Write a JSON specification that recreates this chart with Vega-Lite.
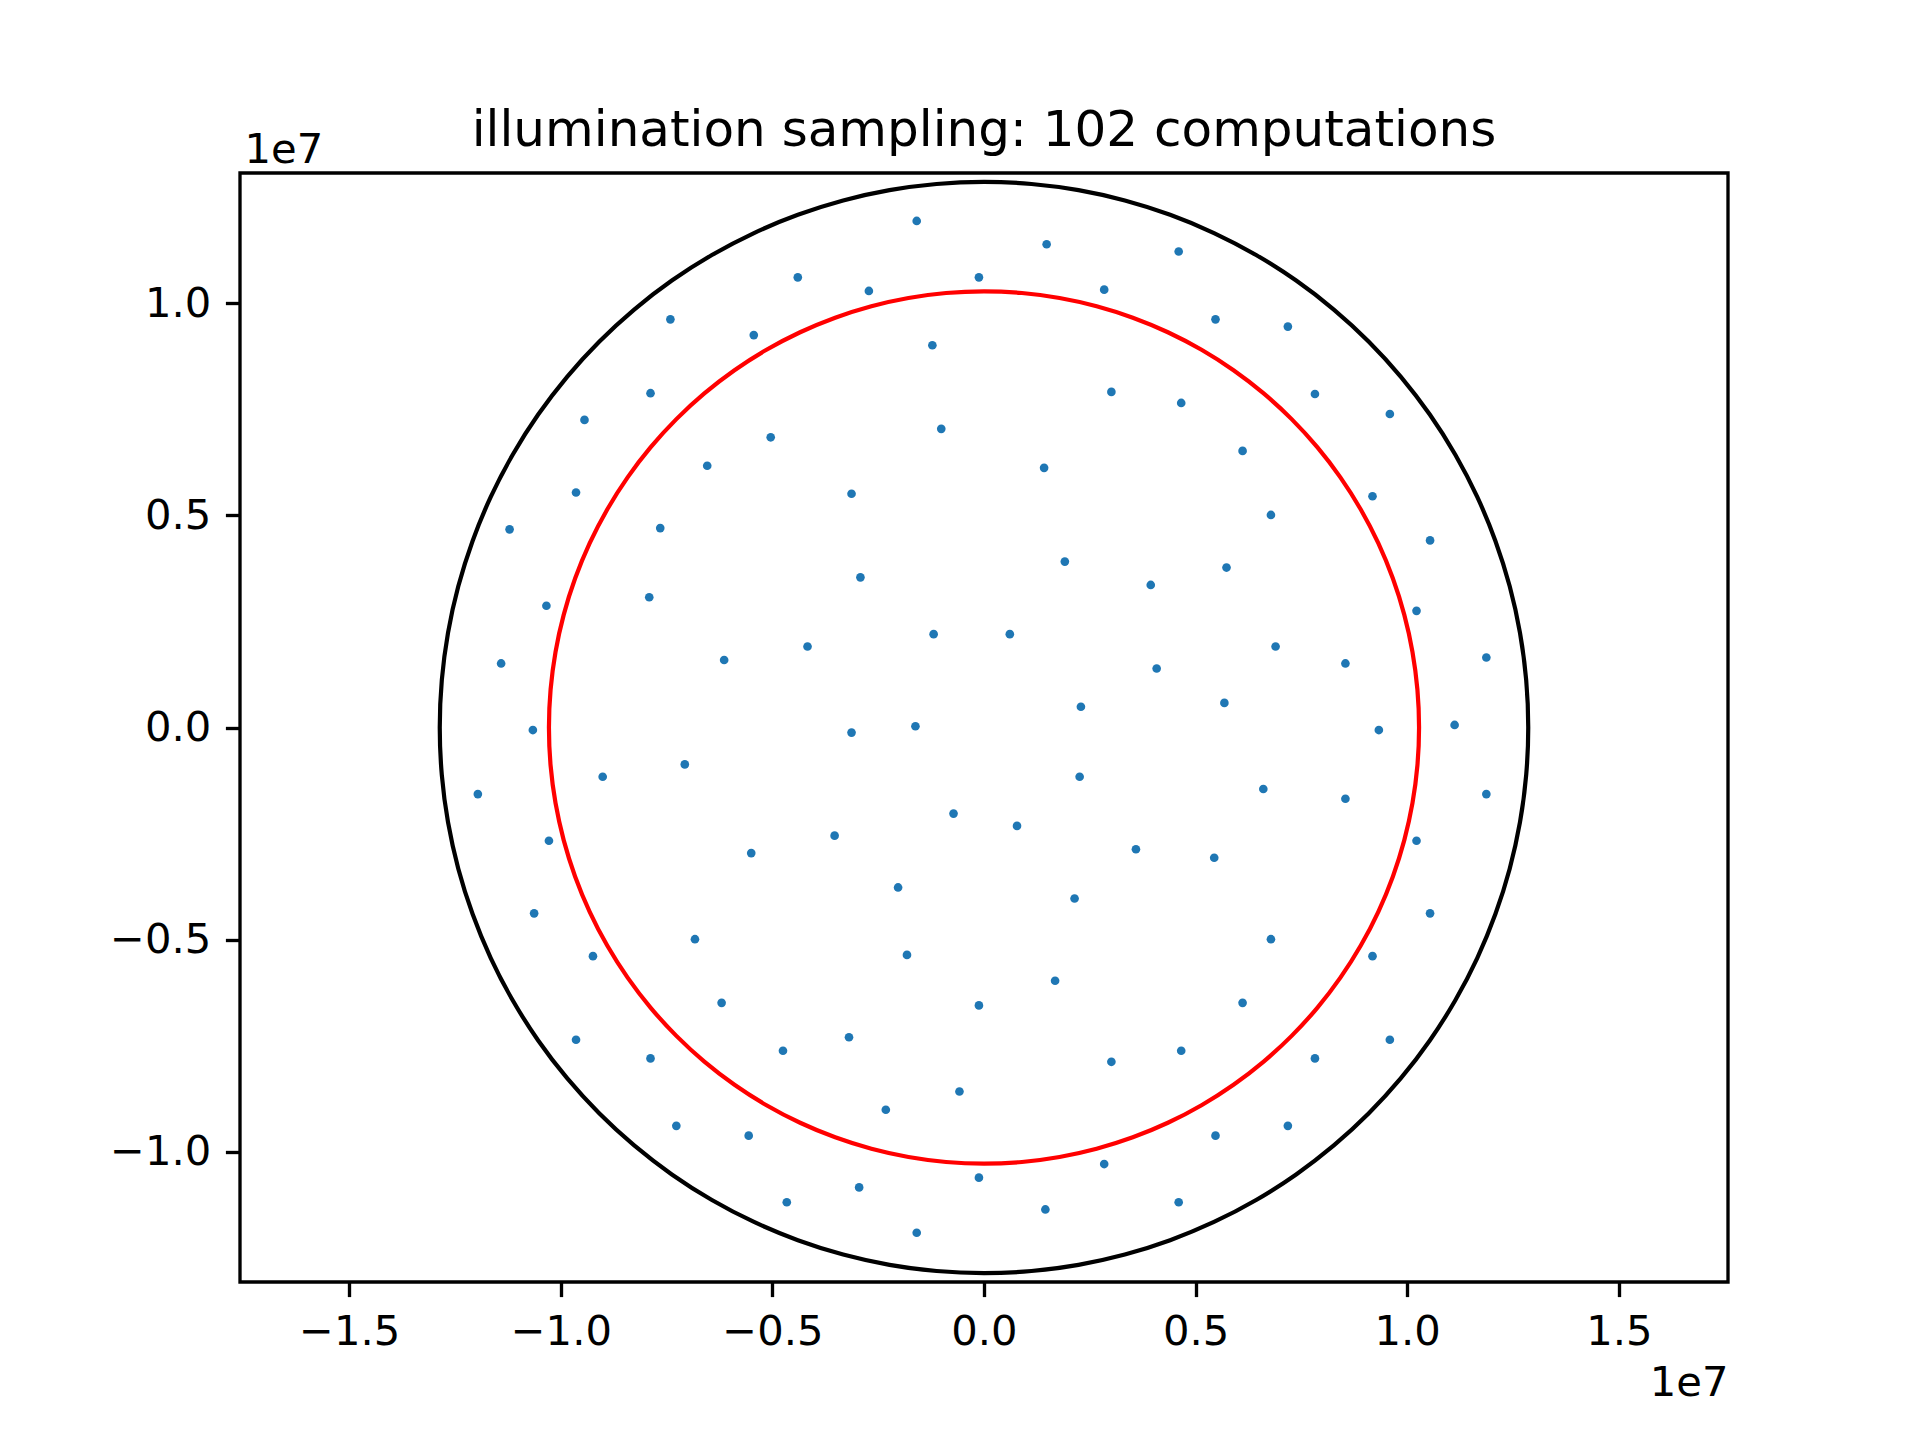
{
  "$schema": "https://vega.github.io/schema/vega-lite/v6.json",
  "width": 1488,
  "height": 1109,
  "autosize": {"type": "none"},
  "padding": {"left": 240, "top": 173, "right": 192, "bottom": 158},
  "background": "white",
  "title": {"text": "illumination sampling: 102 computations", "font": "DejaVu Sans", "fontSize": 50, "fontWeight": "normal", "color": "black", "anchor": "middle", "baseline": "alphabetic", "offset": -67, "frame": "group"},
  "config": {
    "view": {"stroke": "black", "strokeWidth": 3.33},
    "axis": {"domain": false, "grid": false, "ticks": true, "tickColor": "black", "tickWidth": 3.33, "tickSize": 14.6, "labelPadding": 14.6, "labelFont": "DejaVu Sans", "labelFontSize": 41.7, "labelColor": "black", "titleFont": "DejaVu Sans", "titleFontSize": 41.7, "titleFontWeight": "normal", "titleColor": "black"}
  },
  "datasets": {
    "circles": [
      {"c":"outer","i":0,"x":1.286,"y":0},{"c":"outer","i":1,"x":1.2811,"y":0.1121},{"c":"outer","i":2,"x":1.2665,"y":0.2233},{"c":"outer","i":3,"x":1.2422,"y":0.3328},{"c":"outer","i":4,"x":1.2084,"y":0.4398},{"c":"outer","i":5,"x":1.1655,"y":0.5435},{"c":"outer","i":6,"x":1.1137,"y":0.643},{"c":"outer","i":7,"x":1.0534,"y":0.7376},{"c":"outer","i":8,"x":0.9851,"y":0.8266},{"c":"outer","i":9,"x":0.9093,"y":0.9093},{"c":"outer","i":10,"x":0.8266,"y":0.9851},{"c":"outer","i":11,"x":0.7376,"y":1.0534},{"c":"outer","i":12,"x":0.643,"y":1.1137},{"c":"outer","i":13,"x":0.5435,"y":1.1655},{"c":"outer","i":14,"x":0.4398,"y":1.2084},{"c":"outer","i":15,"x":0.3328,"y":1.2422},{"c":"outer","i":16,"x":0.2233,"y":1.2665},{"c":"outer","i":17,"x":0.1121,"y":1.2811},
      {"c":"outer","i":18,"x":0,"y":1.286},{"c":"outer","i":19,"x":-0.1121,"y":1.2811},{"c":"outer","i":20,"x":-0.2233,"y":1.2665},{"c":"outer","i":21,"x":-0.3328,"y":1.2422},{"c":"outer","i":22,"x":-0.4398,"y":1.2084},{"c":"outer","i":23,"x":-0.5435,"y":1.1655},{"c":"outer","i":24,"x":-0.643,"y":1.1137},{"c":"outer","i":25,"x":-0.7376,"y":1.0534},{"c":"outer","i":26,"x":-0.8266,"y":0.9851},{"c":"outer","i":27,"x":-0.9093,"y":0.9093},{"c":"outer","i":28,"x":-0.9851,"y":0.8266},{"c":"outer","i":29,"x":-1.0534,"y":0.7376},{"c":"outer","i":30,"x":-1.1137,"y":0.643},{"c":"outer","i":31,"x":-1.1655,"y":0.5435},{"c":"outer","i":32,"x":-1.2084,"y":0.4398},{"c":"outer","i":33,"x":-1.2422,"y":0.3328},{"c":"outer","i":34,"x":-1.2665,"y":0.2233},{"c":"outer","i":35,"x":-1.2811,"y":0.1121},
      {"c":"outer","i":36,"x":-1.286,"y":0},{"c":"outer","i":37,"x":-1.2811,"y":-0.1121},{"c":"outer","i":38,"x":-1.2665,"y":-0.2233},{"c":"outer","i":39,"x":-1.2422,"y":-0.3328},{"c":"outer","i":40,"x":-1.2084,"y":-0.4398},{"c":"outer","i":41,"x":-1.1655,"y":-0.5435},{"c":"outer","i":42,"x":-1.1137,"y":-0.643},{"c":"outer","i":43,"x":-1.0534,"y":-0.7376},{"c":"outer","i":44,"x":-0.9851,"y":-0.8266},{"c":"outer","i":45,"x":-0.9093,"y":-0.9093},{"c":"outer","i":46,"x":-0.8266,"y":-0.9851},{"c":"outer","i":47,"x":-0.7376,"y":-1.0534},{"c":"outer","i":48,"x":-0.643,"y":-1.1137},{"c":"outer","i":49,"x":-0.5435,"y":-1.1655},{"c":"outer","i":50,"x":-0.4398,"y":-1.2084},{"c":"outer","i":51,"x":-0.3328,"y":-1.2422},{"c":"outer","i":52,"x":-0.2233,"y":-1.2665},{"c":"outer","i":53,"x":-0.1121,"y":-1.2811},
      {"c":"outer","i":54,"x":0,"y":-1.286},{"c":"outer","i":55,"x":0.1121,"y":-1.2811},{"c":"outer","i":56,"x":0.2233,"y":-1.2665},{"c":"outer","i":57,"x":0.3328,"y":-1.2422},{"c":"outer","i":58,"x":0.4398,"y":-1.2084},{"c":"outer","i":59,"x":0.5435,"y":-1.1655},{"c":"outer","i":60,"x":0.643,"y":-1.1137},{"c":"outer","i":61,"x":0.7376,"y":-1.0534},{"c":"outer","i":62,"x":0.8266,"y":-0.9851},{"c":"outer","i":63,"x":0.9093,"y":-0.9093},{"c":"outer","i":64,"x":0.9851,"y":-0.8266},{"c":"outer","i":65,"x":1.0534,"y":-0.7376},{"c":"outer","i":66,"x":1.1137,"y":-0.643},{"c":"outer","i":67,"x":1.1655,"y":-0.5435},{"c":"outer","i":68,"x":1.2084,"y":-0.4398},{"c":"outer","i":69,"x":1.2422,"y":-0.3328},{"c":"outer","i":70,"x":1.2665,"y":-0.2233},{"c":"outer","i":71,"x":1.2811,"y":-0.1121},
      {"c":"inner","i":0,"x":1.028,"y":0},{"c":"inner","i":1,"x":1.0241,"y":0.0896},{"c":"inner","i":2,"x":1.0124,"y":0.1785},{"c":"inner","i":3,"x":0.993,"y":0.2661},{"c":"inner","i":4,"x":0.966,"y":0.3516},{"c":"inner","i":5,"x":0.9317,"y":0.4345},{"c":"inner","i":6,"x":0.8903,"y":0.514},{"c":"inner","i":7,"x":0.8421,"y":0.5896},{"c":"inner","i":8,"x":0.7875,"y":0.6608},{"c":"inner","i":9,"x":0.7269,"y":0.7269},{"c":"inner","i":10,"x":0.6608,"y":0.7875},{"c":"inner","i":11,"x":0.5896,"y":0.8421},{"c":"inner","i":12,"x":0.514,"y":0.8903},{"c":"inner","i":13,"x":0.4345,"y":0.9317},{"c":"inner","i":14,"x":0.3516,"y":0.966},{"c":"inner","i":15,"x":0.2661,"y":0.993},{"c":"inner","i":16,"x":0.1785,"y":1.0124},{"c":"inner","i":17,"x":0.0896,"y":1.0241},
      {"c":"inner","i":18,"x":0,"y":1.028},{"c":"inner","i":19,"x":-0.0896,"y":1.0241},{"c":"inner","i":20,"x":-0.1785,"y":1.0124},{"c":"inner","i":21,"x":-0.2661,"y":0.993},{"c":"inner","i":22,"x":-0.3516,"y":0.966},{"c":"inner","i":23,"x":-0.4345,"y":0.9317},{"c":"inner","i":24,"x":-0.514,"y":0.8903},{"c":"inner","i":25,"x":-0.5896,"y":0.8421},{"c":"inner","i":26,"x":-0.6608,"y":0.7875},{"c":"inner","i":27,"x":-0.7269,"y":0.7269},{"c":"inner","i":28,"x":-0.7875,"y":0.6608},{"c":"inner","i":29,"x":-0.8421,"y":0.5896},{"c":"inner","i":30,"x":-0.8903,"y":0.514},{"c":"inner","i":31,"x":-0.9317,"y":0.4345},{"c":"inner","i":32,"x":-0.966,"y":0.3516},{"c":"inner","i":33,"x":-0.993,"y":0.2661},{"c":"inner","i":34,"x":-1.0124,"y":0.1785},{"c":"inner","i":35,"x":-1.0241,"y":0.0896},
      {"c":"inner","i":36,"x":-1.028,"y":0},{"c":"inner","i":37,"x":-1.0241,"y":-0.0896},{"c":"inner","i":38,"x":-1.0124,"y":-0.1785},{"c":"inner","i":39,"x":-0.993,"y":-0.2661},{"c":"inner","i":40,"x":-0.966,"y":-0.3516},{"c":"inner","i":41,"x":-0.9317,"y":-0.4345},{"c":"inner","i":42,"x":-0.8903,"y":-0.514},{"c":"inner","i":43,"x":-0.8421,"y":-0.5896},{"c":"inner","i":44,"x":-0.7875,"y":-0.6608},{"c":"inner","i":45,"x":-0.7269,"y":-0.7269},{"c":"inner","i":46,"x":-0.6608,"y":-0.7875},{"c":"inner","i":47,"x":-0.5896,"y":-0.8421},{"c":"inner","i":48,"x":-0.514,"y":-0.8903},{"c":"inner","i":49,"x":-0.4345,"y":-0.9317},{"c":"inner","i":50,"x":-0.3516,"y":-0.966},{"c":"inner","i":51,"x":-0.2661,"y":-0.993},{"c":"inner","i":52,"x":-0.1785,"y":-1.0124},{"c":"inner","i":53,"x":-0.0896,"y":-1.0241},
      {"c":"inner","i":54,"x":0,"y":-1.028},{"c":"inner","i":55,"x":0.0896,"y":-1.0241},{"c":"inner","i":56,"x":0.1785,"y":-1.0124},{"c":"inner","i":57,"x":0.2661,"y":-0.993},{"c":"inner","i":58,"x":0.3516,"y":-0.966},{"c":"inner","i":59,"x":0.4345,"y":-0.9317},{"c":"inner","i":60,"x":0.514,"y":-0.8903},{"c":"inner","i":61,"x":0.5896,"y":-0.8421},{"c":"inner","i":62,"x":0.6608,"y":-0.7875},{"c":"inner","i":63,"x":0.7269,"y":-0.7269},{"c":"inner","i":64,"x":0.7875,"y":-0.6608},{"c":"inner","i":65,"x":0.8421,"y":-0.5896},{"c":"inner","i":66,"x":0.8903,"y":-0.514},{"c":"inner","i":67,"x":0.9317,"y":-0.4345},{"c":"inner","i":68,"x":0.966,"y":-0.3516},{"c":"inner","i":69,"x":0.993,"y":-0.2661},{"c":"inner","i":70,"x":1.0124,"y":-0.1785},{"c":"inner","i":71,"x":1.0241,"y":-0.0896}
    ],
    "samples": [
      {"x":-0.159,"y":1.194},{"x":0.148,"y":1.139},{"x":0.460,"y":1.122},{"x":-0.440,"y":1.061},{"x":-0.012,"y":1.061},{"x":-0.272,"y":1.029},{"x":0.284,"y":1.032},{"x":-0.741,"y":0.962},{"x":0.547,"y":0.962},{"x":0.718,"y":0.945},
      {"x":-0.544,"y":0.925},{"x":-0.122,"y":0.901},{"x":-0.788,"y":0.788},{"x":0.301,"y":0.791},{"x":0.782,"y":0.786},{"x":0.466,"y":0.765},{"x":-0.944,"y":0.725},{"x":0.959,"y":0.739},{"x":-0.101,"y":0.704},{"x":-0.504,"y":0.684},
      {"x":0.611,"y":0.652},{"x":-0.654,"y":0.617},{"x":0.142,"y":0.612},{"x":-0.964,"y":0.554},{"x":-0.313,"y":0.551},{"x":0.918,"y":0.545},{"x":0.678,"y":0.501},{"x":-0.765,"y":0.470},{"x":-1.121,"y":0.467},{"x":1.054,"y":0.441},
      {"x":0.191,"y":0.391},{"x":0.573,"y":0.377},{"x":-0.292,"y":0.354},{"x":0.394,"y":0.336},{"x":-0.791,"y":0.307},{"x":-1.034,"y":0.287},{"x":1.022,"y":0.275},{"x":-0.119,"y":0.220},{"x":0.061,"y":0.220},{"x":-0.417,"y":0.191},
      {"x":0.689,"y":0.191},{"x":1.187,"y":0.165},{"x":-0.614,"y":0.159},{"x":-1.141,"y":0.151},{"x":0.854,"y":0.151},{"x":0.408,"y":0.139},{"x":0.568,"y":0.058},{"x":0.229,"y":0.049},{"x":1.112,"y":0.006},{"x":-0.162,"y":0.003},
      {"x":-1.066,"y":-0.006},{"x":0.933,"y":-0.006},{"x":-0.313,"y":-0.012},{"x":-0.707,"y":-0.087},{"x":0.226,"y":-0.116},{"x":-0.901,"y":-0.116},{"x":0.660,"y":-0.145},{"x":-1.196,"y":-0.157},{"x":1.187,"y":-0.157},{"x":0.854,"y":-0.168},
      {"x":-0.072,"y":-0.203},{"x":0.078,"y":-0.232},{"x":-0.353,"y":-0.255},{"x":-1.028,"y":-0.267},{"x":1.022,"y":-0.267},{"x":0.359,"y":-0.287},{"x":-0.550,"y":-0.296},{"x":0.544,"y":-0.307},{"x":-0.203,"y":-0.377},{"x":0.214,"y":-0.403},
      {"x":-1.063,"y":-0.438},{"x":1.054,"y":-0.438},{"x":-0.683,"y":-0.499},{"x":0.678,"y":-0.499},{"x":-0.924,"y":-0.539},{"x":0.918,"y":-0.539},{"x":-0.182,"y":-0.536},{"x":0.168,"y":-0.597},{"x":-0.012,"y":-0.655},{"x":-0.620,"y":-0.649},
      {"x":0.611,"y":-0.649},{"x":-0.964,"y":-0.736},{"x":0.959,"y":-0.736},{"x":-0.319,"y":-0.730},{"x":-0.475,"y":-0.762},{"x":0.466,"y":-0.762},{"x":-0.788,"y":-0.780},{"x":0.782,"y":-0.780},{"x":0.301,"y":-0.788},{"x":-0.058,"y":-0.858},
      {"x":-0.232,"y":-0.901},{"x":-0.727,"y":-0.939},{"x":0.718,"y":-0.939},{"x":-0.556,"y":-0.962},{"x":0.547,"y":-0.962},{"x":0.284,"y":-1.029},{"x":-0.012,"y":-1.061},{"x":-0.295,"y":-1.084},{"x":-0.466,"y":-1.119},{"x":0.460,"y":-1.119},
      {"x":0.145,"y":-1.136},{"x":-0.159,"y":-1.191}
    ]
  },
  "encoding": {
    "x": {"field": "x", "type": "quantitative", "scale": {"domain": [-1.758, 1.758], "nice": false, "zero": false},
      "axis": {"values": [-1.5, -1, -0.5, 0, 0.5, 1, 1.5], "format": ".1f", "title": "1e7", "titleX": 1488, "titleY": 113, "titleAlign": "right", "titleAnchor": null, "titleBaseline": "alphabetic"}},
    "y": {"field": "y", "type": "quantitative", "scale": {"domain": [-1.307, 1.307], "nice": false, "zero": false},
      "axis": {"values": [-1, -0.5, 0, 0.5, 1], "format": ".1f", "title": "1e7", "titleAngle": 0, "titleX": 4, "titleY": -11, "titleAlign": "left", "titleAnchor": null, "titleBaseline": "alphabetic"}}
  },
  "layer": [
    {
      "data": {"name": "circles"},
      "mark": {"type": "line", "interpolate": "cardinal-closed", "strokeWidth": 4.2, "clip": true},
      "encoding": {
        "order": {"field": "i", "type": "quantitative"},
        "color": {"field": "c", "type": "nominal", "scale": {"domain": ["outer", "inner"], "range": ["black", "red"]}, "legend": null}
      }
    },
    {
      "data": {"name": "samples"},
      "mark": {"type": "point", "shape": "circle", "filled": true, "size": 75, "color": "#1f77b4", "opacity": 1, "strokeWidth": 0}
    }
  ]
}
